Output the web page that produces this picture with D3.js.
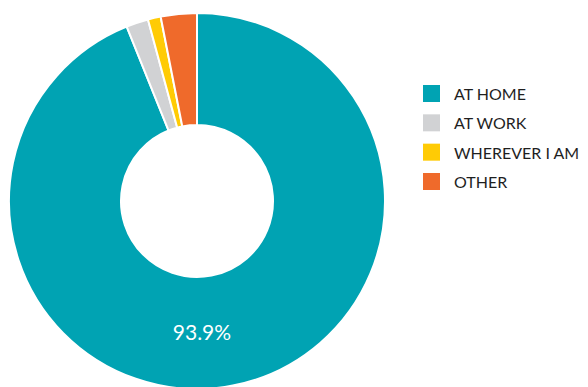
<!DOCTYPE html>
<html>
<head>
<meta charset="utf-8">
<script src="https://cdn.jsdelivr.net/npm/d3@7"></script>
<style>
  html, body { margin: 0; padding: 0; background: #ffffff; }
  svg { display: block; }
</style>
</head>
<body>
<svg id="chart" width="588" height="387"></svg>
<script>
// Where people work: share of responses
const categories = ["AT HOME", "AT WORK", "WHEREVER I AM", "OTHER"];
const values = [93.9, 1.9, 1.1, 3.1];
const colors = ["#00a3b3", "#d1d2d4", "#ffcb05", "#ef6a2b"];
const valueLabels = ["93.9%"];

const svg = d3.select("#chart");
const cx = 197, cy = 201;
const outerR = 188, innerR = 76;

const pie = d3.pie().sort(null).value(d => d)(values);
const arc = d3.arc().innerRadius(innerR).outerRadius(outerR);

const g = svg.append("g").attr("transform", `translate(${cx},${cy})`);

g.selectAll("path.slice")
  .data(pie)
  .join("path")
  .attr("class", "slice")
  .attr("d", arc)
  .attr("fill", (d, i) => colors[i])
  .attr("stroke", "#ffffff")
  .attr("stroke-width", 2)
  .attr("stroke-linejoin", "miter");

// value label on the largest slice, set at the bottom of the ring
const labelArc = d3.arc().innerRadius(131).outerRadius(131);
const la = Math.PI * 0.988;
const lp = labelArc.centroid({ startAngle: la, endAngle: la });
g.append("text")
  .attr("x", lp[0])
  .attr("y", lp[1])
  .attr("text-anchor", "middle")
  .attr("dominant-baseline", "central")
  .attr("fill", "#ffffff")
  .attr("font-family", "Lato, 'Open Sans', sans-serif")
  .attr("font-size", 21)
  .text(valueLabels[0]);

// legend
const legendY = d3.scalePoint().domain(categories).range([93.5, 181.5]);
const legend = svg.append("g").attr("transform", "translate(423,0)");
const rows = legend.selectAll("g.row")
  .data(categories)
  .join("g")
  .attr("class", "row")
  .attr("transform", d => `translate(0,${legendY(d)})`);

rows.append("rect")
  .attr("x", 0)
  .attr("y", -8.5)
  .attr("width", 17)
  .attr("height", 17)
  .attr("fill", (d, i) => colors[i]);

rows.append("text")
  .attr("x", 31)
  .attr("y", 0)
  .attr("dominant-baseline", "central")
  .attr("fill", "#1f1f1f")
  .attr("font-family", "Lato, 'Open Sans', sans-serif")
  .attr("font-size", 16)
  .text(d => d);
</script>
</body>
</html>
